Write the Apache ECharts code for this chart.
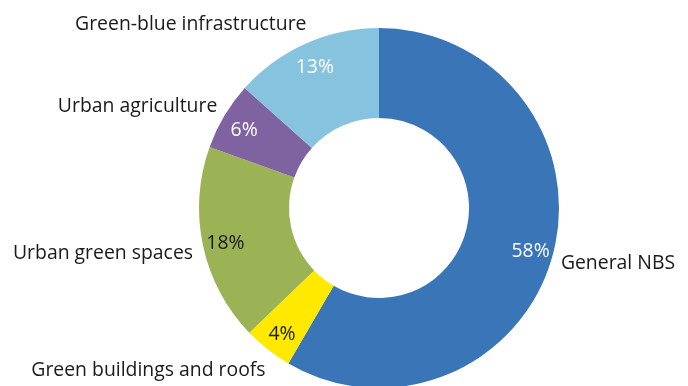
<!DOCTYPE html>
<html>
<head>
<meta charset="utf-8">
<script src="https://cdn.jsdelivr.net/npm/echarts@6/dist/echarts.min.js"></script>
<style>
html,body{margin:0;padding:0;background:#fff;}
#chart{width:688px;height:386px;}
</style>
</head>
<body>
<div id="chart"></div>
<script>
var categories = ['General NBS', 'Green buildings and roofs', 'Urban green spaces', 'Urban agriculture', 'Green-blue infrastructure'];
var shares = [58.4, 4.4, 17.7, 6.1, 13.4];
var sliceColors = ['#3A75B8', '#FFE900', '#9BB354', '#7F63A0', '#86C3DE'];
var pctColors = ['#ffffff', '#1a1a1a', '#1a1a1a', '#ffffff', '#ffffff'];

var FONT = 'Open Sans';
var FS = 19.4;
var chart = echarts.init(document.getElementById('chart'));

// mid-angle direction for each slice (clockwise from top)
var total = shares.reduce(function (a, b) { return a + b; }, 0);
var dirs = [];
(function () {
  var acc = 0;
  shares.forEach(function (v) {
    var mid = (acc + v / 2) / total * Math.PI * 2;
    dirs.push({ x: Math.sin(mid), y: -Math.cos(mid) });
    acc += v;
  });
})();

var mainData = categories.map(function (c, i) {
  return { name: c, value: shares[i], itemStyle: { color: sliceColors[i] } };
});
var pctData = categories.map(function (c, i) {
  return { name: c, value: shares[i], label: { color: pctColors[i] } };
});

chart.setOption({
  animation: false,
  series: [
    {
      type: 'pie',
      center: [379, 208],
      radius: [90, 180],
      startAngle: 90,
      clockwise: true,
      avoidLabelOverlap: false,
      silent: true,
      data: mainData,
      itemStyle: { borderWidth: 0 },
      label: {
        show: true,
        position: 'outside',
        formatter: '{b}',
        fontFamily: FONT,
        fontSize: FS,
        color: '#1a1a1a',
        distanceToLabelLine: 5
      },
      labelLine: { show: false, length: 4, length2: 0 },
      labelLayout: function (p) {
        var d = dirs[p.dataIndex];
        var toward = d.x < 0 ? 1 : -1;
        return { dx: toward * d.y * d.y * 11 - (d.x < 0 ? 1.5 : 0), dy: d.y * 20 + 2.5 };
      },
      emphasis: { disabled: true }
    },
    {
      type: 'pie',
      center: [379, 208],
      radius: [128, 180],
      startAngle: 90,
      clockwise: true,
      avoidLabelOverlap: false,
      silent: true,
      data: pctData,
      itemStyle: { color: 'rgba(0,0,0,0)', borderWidth: 0 },
      label: {
        show: true,
        position: 'inside',
        formatter: function (p) { return Math.round(p.value) + '%'; },
        fontFamily: FONT,
        fontSize: FS
      },
      labelLine: { show: false },
      labelLayout: function () { return { dy: 3 }; },
      emphasis: { disabled: true }
    }
  ]
});
</script>
</body>
</html>
